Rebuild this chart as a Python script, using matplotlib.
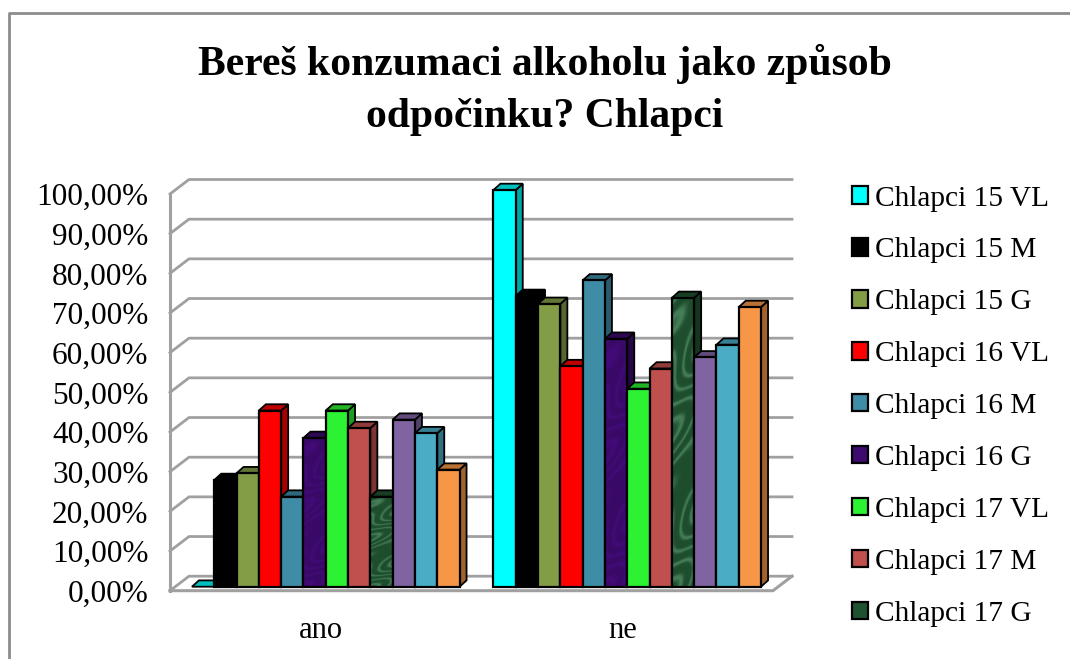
import matplotlib
matplotlib.use("Agg")
import matplotlib.pyplot as plt
from matplotlib.patches import Polygon, Patch
from matplotlib.lines import Line2D
import numpy as np

# Data
categories = ["ano", "ne"]
series_names = ["Chlapci 15 VL", "Chlapci 15 M", "Chlapci 15 G",
                "Chlapci 16 VL", "Chlapci 16 M", "Chlapci 16 G",
                "Chlapci 17 VL", "Chlapci 17 M", "Chlapci 17 G"]
ano = [0, 26.9, 28.6, 44.4, 22.7, 37.5, 44.4, 40.0, 22.7, 42.1, 38.7, 29.5]
ne = [100, 73.3, 71.3, 55.6, 77.2, 62.5, 49.9, 55.0, 72.8, 57.8, 61.0, 70.5]
colors = ["#00FFFF", "#000000", "#839D47", "#FF0000", "#3F8CA6", "#3D0A6E",
          "#2CF233", "#C0504D", "#1F5230", "#8064A2", "#4BACC6", "#F79646"]
yticks = list(range(0, 101, 10))
ylabels = [f"{t},00%" for t in yticks]
textured = [5, 8]

W, H = 1070, 659
plt.rcParams["font.family"] = ["Liberation Serif", "DejaVu Serif"]
fig = plt.figure(figsize=(W / 100, H / 100), dpi=100)

# Axes = front plane of the fake 3D box
left, right, top, bottom = 170, 773, 194, 590.7
ax = fig.add_axes([left / W, 1 - bottom / H, (right - left) / W, (bottom - top) / H])
ax.patch.set_alpha(0)
for s in ax.spines.values():
    s.set_visible(False)

px_x = 2.0 / (right - left)
px_y = 100.0 / (bottom - top)
wall_dx, wall_dy = 19 * px_x, 14.5 * px_y
bar_dx, bar_dy = 7 * px_x, 6.3 * px_y
base_x, base_y = 5 * px_x, 4 * px_y
bar_w = 22.3 * px_x
grey = "#A0A0A0"

# Walls and gridlines
for t in yticks:
    ax.plot([-0.5, -0.5 + wall_dx, 1.5 + wall_dx], [t, t + wall_dy, t + wall_dy],
            color=grey, lw=2, clip_on=False, zorder=1)
ax.plot([-0.5, -0.5], [0, 100], color=grey, lw=2.2, clip_on=False, zorder=1)
ax.plot([-0.5, 1.5, 1.5 + wall_dx], [0, 0, wall_dy], color=grey, lw=2.2, clip_on=False, zorder=1)


def shade(c, f):
    return np.array(matplotlib.colors.to_rgb(c)) * f


# Marble look for the two textured series
yy, xx = np.mgrid[0:1:300j, 0:1:40j]
marble = np.sin(3 * xx + 4 * np.sin(11 * yy) + 2 * np.sin(23 * yy + 3 * xx)) ** 8

# Bars, left to right so the next front hides the last side
z = 2
for g, values in enumerate([ano, ne]):
    for i, v in enumerate(values):
        x0 = g - 6 * bar_w + i * bar_w + base_x
        c = colors[i]
        x1 = x0 + bar_w
        y0, y1 = base_y, base_y + v
        side = Polygon([(x1, y0), (x1 + bar_dx, y0 + bar_dy), (x1 + bar_dx, y1 + bar_dy), (x1, y1)],
                       fc=shade(c, 0.65), ec="black", lw=1.3, clip_on=False, zorder=z)
        cap = Polygon([(x0, y1), (x0 + bar_dx, y1 + bar_dy), (x1 + bar_dx, y1 + bar_dy), (x1, y1)],
                      fc=shade(c, 0.75), ec="black", lw=1.3, clip_on=False, zorder=z)
        ax.add_patch(side)
        ax.add_patch(cap)
        if v > 0:
            b = ax.bar(x0, v, bar_w, bottom=y0, align="edge", color=c, edgecolor="black",
                       lw=1.6, clip_on=False, zorder=z + 1)[0]
            if i in textured:
                b.set_facecolor("none")
                tex = shade(c, 1.0)[None, None, :] * (0.95 + 0.15 * marble[:, :, None])
                tex = np.clip(tex + 0.14 * marble[:, :, None] * (i == 8), 0, 1)
                im = ax.imshow(tex, extent=(x0, x1, y0, y1), aspect="auto", zorder=z + 0.5)
                im.set_clip_path(b)
        z += 2

ax.set_xlim(-0.5, 1.5)
ax.set_ylim(0, 100)

# Ticks
ax.set_yticks(yticks, ylabels, fontsize=22.5)
ax.set_xticks([0, 1], categories, fontsize=22)
ax.tick_params(axis="both", length=0, colors="black")
ax.tick_params(axis="y", pad=15.5)
ax.tick_params(axis="x", pad=18)

# Title
fig.text(545 / W, 1 - 64 / H, "Bereš konzumaci alkoholu jako způsob", ha="center", va="center",
         fontsize=30, fontweight="bold")
fig.text(545 / W, 1 - 117 / H, "odpočinku? Chlapci", ha="center", va="center",
         fontsize=30, fontweight="bold")

# Legend
handles = [Patch(fc=c, ec="black", lw=1.6) for c in colors[:len(series_names)]]
fig.legend(handles, series_names, loc="upper left", bbox_to_anchor=(852 / W, 1 - 185.5 / H),
           frameon=False, fontsize=21.2, handlelength=0.54, handleheight=0.54,
           handletextpad=0.24, labelspacing=0.88, borderpad=0, borderaxespad=0)

# Chart border
fig.add_artist(Line2D([9 / W, 9 / W, 1], [0, 1 - 13 / H, 1 - 13 / H], color="#8C8C8C", lw=2))

fig.savefig("out.png", dpi=100)
